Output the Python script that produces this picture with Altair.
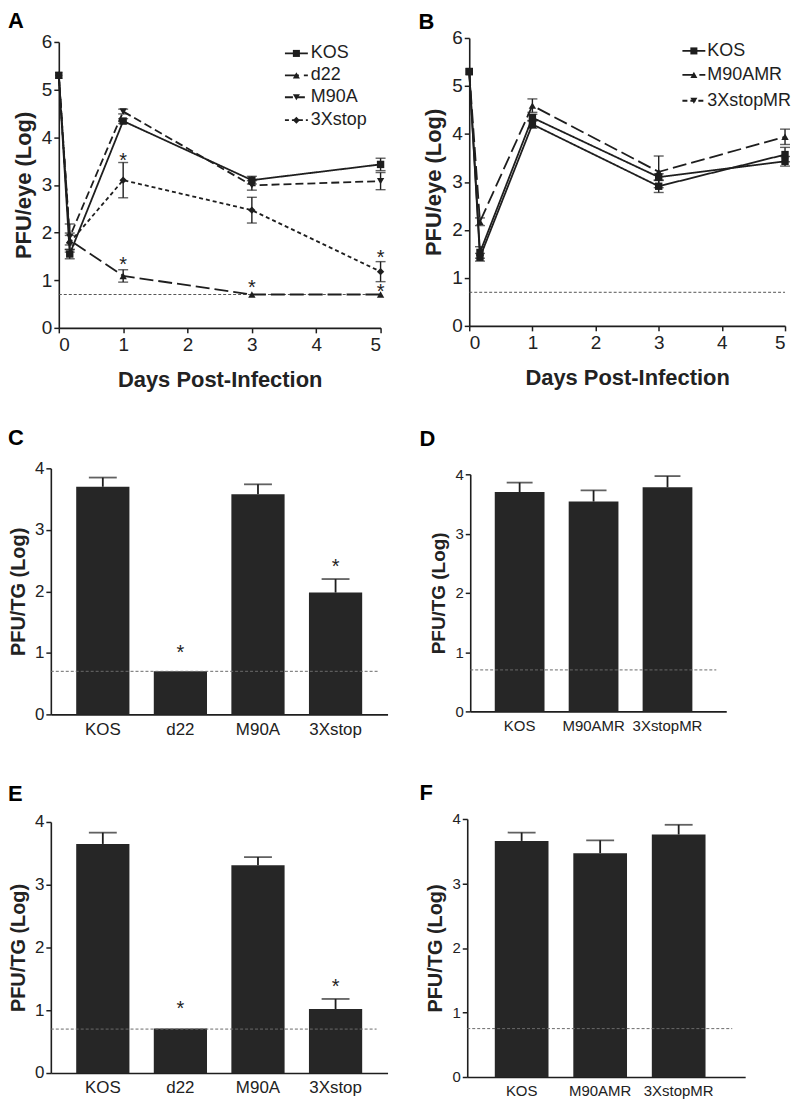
import altair as alt
import pandas as pd

FONT = "Liberation Sans"
INK = "#1e1e1e"
BAR = "#262626"
LOD_C = "#555555"

# ---------------- data ----------------
days = [0, 0.17, 1, 3, 5]

# Panel A
a_names = ["KOS", "d22", "M90A", "3Xstop"]
a_kos = [5.30, 1.55, 4.34, 3.10, 3.43]
a_kos_err = [0, 0.10, 0.05, 0.08, 0.13]
a_d22 = [5.30, 1.84, 1.09, 0.70, 0.70]
a_d22_err = [0, 0.10, 0.13, 0, 0]
a_m90a = [5.30, 1.91, 4.54, 2.99, 3.08]
a_m90a_err = [0, 0.27, 0.05, 0.10, 0.18]
a_3x = [5.30, 1.79, 3.10, 2.47, 1.18]
a_3x_err = [0, 0.20, 0.37, 0.27, 0.21]
a_star_x = [1, 1, 3, 5, 5]
a_star_y = [3.60, 1.43, 0.94, 1.58, 0.85]

# Panel B
b_names = ["KOS", "M90AMR", "3XstopMR"]
b_kos = [5.30, 1.53, 4.34, 3.10, 3.43]
b_kos_err = [0, 0.12, 0.07, 0.07, 0.10]
b_m90amr = [5.30, 1.43, 4.20, 2.91, 3.57]
b_m90amr_err = [0, 0.08, 0.08, 0.13, 0.15]
b_3xmr = [5.30, 2.17, 4.59, 3.21, 3.94]
b_3xmr_err = [0, 0.08, 0.14, 0.33, 0.16]

lod_eye = 0.7

# Panel C
c_cats = ["KOS", "d22", "M90A", "3Xstop"]
c_vals = [3.70, 0.70, 3.58, 1.98]
c_err = [0.15, 0, 0.16, 0.22]
c_star_cats = ["d22", "3Xstop"]
c_star_y = [1.08, 2.48]
c_lod = 0.7

# Panel D
d_cats = ["KOS", "M90AMR", "3XstopMR"]
d_vals = [3.70, 3.54, 3.78]
d_err = [0.16, 0.19, 0.19]
d_lod = 0.7

# Panel E
e_cats = ["KOS", "d22", "M90A", "3Xstop"]
e_vals = [3.65, 0.71, 3.31, 1.02]
e_err = [0.18, 0, 0.13, 0.16]
e_star_cats = ["d22", "3Xstop"]
e_star_y = [1.10, 1.45]
e_lod = 0.7

# Panel F
f_cats = ["KOS", "M90AMR", "3XstopMR"]
f_vals = [3.66, 3.47, 3.76]
f_err = [0.13, 0.20, 0.15]
f_lod = 0.75


def letter_title(letter, dx, offset):
    return alt.TitleParams(text=letter, anchor="start", frame="group", dx=dx,
                           offset=offset, fontSize=22, fontWeight="bold",
                           font=FONT, color="#000000")


def line_panel(names, vals, errs, dashes, shapes, star_x, star_y, letter,
               w, h, xin, ytop, tdx, toff, leg_x0, leg_x1, leg_tx, leg_ys):
    rows = []
    for n, vs, es in zip(names, vals, errs):
        for d, v, e in zip(days, vs, es):
            rows.append(dict(strain=n, day=d, pfu=v, lo=v - e, hi=v + e, err=e))
    df = pd.DataFrame(rows)

    def X():
        return alt.X("day:Q", scale=alt.Scale(domain=[0, 5], nice=False, range=[xin, w]),
                     axis=alt.Axis(values=[0, 1, 2, 3, 4, 5], title="Days Post-Infection",
                                   labelFontSize=19, titleFontSize=22, labelPadding=3,
                                   titlePadding=15, tickSize=5, format="d"))

    def Y(field):
        return alt.Y(f"{field}:Q", scale=alt.Scale(domain=[0, 6], nice=False, range=[h, ytop]),
                     axis=alt.Axis(values=[0, 1, 2, 3, 4, 5, 6], title="PFU/eye (Log)",
                                   labelFontSize=19, titleFontSize=22, labelPadding=2,
                                   titlePadding=6, tickSize=5, offset=-xin))

    dash_scale = alt.Scale(domain=names, range=dashes)
    shape_scale = alt.Scale(domain=names, range=shapes)

    lod = alt.Chart(pd.DataFrame({"pfu": [lod_eye]})).mark_rule(
        strokeDash=[3, 2], color=LOD_C, strokeWidth=1).encode(
        y=Y("pfu"), x=alt.value(xin), x2=alt.value(w))
    lines = alt.Chart(df).mark_line(strokeWidth=1.8, color=INK).encode(
        x=X(), y=Y("pfu"),
        strokeDash=alt.StrokeDash("strain:N", scale=dash_scale, legend=None),
        detail="strain:N")
    ebar = alt.Chart(df).transform_filter("datum.err > 0").mark_rule(
        color=INK, strokeWidth=1.4).encode(x=X(), y=Y("lo"), y2="hi:Q")
    caps_hi = alt.Chart(df).transform_filter("datum.err > 0").mark_tick(
        orient="horizontal", color=INK, thickness=1.4, size=10).encode(x=X(), y=Y("hi"))
    caps_lo = alt.Chart(df).transform_filter("datum.err > 0").mark_tick(
        orient="horizontal", color=INK, thickness=1.4, size=10).encode(x=X(), y=Y("lo"))
    pts = alt.Chart(df).mark_point(filled=True, color=INK, size=55, opacity=1).encode(
        x=X(), y=Y("pfu"),
        shape=alt.Shape("strain:N", scale=shape_scale, legend=None))
    layers = [lod, lines, ebar, caps_hi, caps_lo, pts]
    if star_x:
        sdf = pd.DataFrame({"day": star_x, "pfu": star_y})
        layers.append(alt.Chart(sdf).mark_text(text="*", fontSize=20, font=FONT, color=INK,
                                               baseline="middle", dy=5).encode(x=X(), y=Y("pfu")))
    # legend
    for n, dsh, shp, ly in zip(names, dashes, shapes, leg_ys):
        ldf = pd.DataFrame({"strain": [n]})
        layers.append(alt.Chart(ldf).mark_rule(color=INK, strokeWidth=1.8, strokeDash=dsh).encode(
            x=alt.value(leg_x0), x2=alt.value(leg_x1), y=alt.value(ly)))
        layers.append(alt.Chart(ldf).mark_point(filled=True, color=INK, size=50, opacity=1,
                                                shape=shp).encode(
            x=alt.value((leg_x0 + leg_x1) / 2), y=alt.value(ly)))
        layers.append(alt.Chart(ldf).mark_text(align="left", baseline="middle", fontSize=18,
                                               font=FONT, color=INK).encode(
            x=alt.value(leg_tx), y=alt.value(ly), text="strain:N"))
    return alt.layer(*layers).properties(width=w, height=h, title=letter_title(letter, tdx, toff))


def bar_panel(cats, vals, errs, star_cats, star_y, lod_v, letter, w, h, ytop, pin, pout, align,
              lab_fs, ytitle_fs, cap, tdx, toff, lod_x2):
    df = pd.DataFrame({"strain": cats, "pfu": vals,
                       "top": [v + e for v, e in zip(vals, errs)], "err": errs})

    def X():
        return alt.X("strain:N", sort=cats,
                     scale=alt.Scale(domain=cats, paddingInner=pin, paddingOuter=pout, align=align),
                     axis=alt.Axis(title=None, labelAngle=0, ticks=False, labelFontSize=lab_fs,
                                   labelPadding=7))

    def Y(field):
        return alt.Y(f"{field}:Q", scale=alt.Scale(domain=[0, 4], nice=False, range=[h, ytop]),
                     axis=alt.Axis(values=[0, 1, 2, 3, 4], title="PFU/TG (Log)",
                                   labelFontSize=lab_fs, titleFontSize=ytitle_fs,
                                   labelPadding=2, titlePadding=6, tickSize=5))

    bars = alt.Chart(df).mark_bar(color=BAR).encode(x=X(), y=Y("pfu"))
    ebar = alt.Chart(df).transform_filter("datum.err > 0").mark_rule(
        color=INK, strokeWidth=1.8).encode(x=X(), y=Y("pfu"), y2="top:Q")
    caps = alt.Chart(df).transform_filter("datum.err > 0").mark_tick(
        color=INK, thickness=1.8, size=cap).encode(x=X(), y=Y("top"))
    lod = alt.Chart(pd.DataFrame({"pfu": [lod_v]})).mark_rule(
        strokeDash=[3, 2], color="#6a6a6a", strokeWidth=1).encode(
        y=Y("pfu"), x=alt.value(0), x2=alt.value(lod_x2))
    layers = [bars, ebar, caps, lod]
    if star_cats:
        sdf = pd.DataFrame({"strain": star_cats, "pfu": star_y})
        layers.append(alt.Chart(sdf).mark_text(text="*", fontSize=20, font=FONT, color=INK,
                                               baseline="middle", dy=5).encode(x=X(), y=Y("pfu")))
    return alt.layer(*layers).properties(width=w, height=h, title=letter_title(letter, tdx, toff))


A = line_panel(a_names, [a_kos, a_d22, a_m90a, a_3x],
               [a_kos_err, a_d22_err, a_m90a_err, a_3x_err],
               [[1, 0], [14, 5], [8, 4], [4, 3]],
               ["square", "triangle-up", "triangle-down", "diamond"],
               a_star_x, a_star_y, "A", 331, 291, 8, 4, -43, 0,
               235, 258, 261, [15.5, 37.5, 59.5, 82.5])
B = line_panel(b_names, [b_kos, b_m90amr, b_3xmr],
               [b_kos_err, b_m90amr_err, b_3xmr_err],
               [[1, 0], [12, 5], [5, 3]],
               ["square", "triangle-up", "triangle-down"],
               [], [], "B", 317, 289, 0, 0, -51, -5,
               214, 237, 239, [13, 37, 63])

C = bar_panel(c_cats, c_vals, c_err, c_star_cats, c_star_y, c_lod, "C", 338, 247, 0,
              0.314, 0.327, 0.5, 17, 20, 28, -43, 9.5, 328)
D = bar_panel(d_cats, d_vals, d_err, [], [], d_lod, "D", 257, 244, 6,
              0.327, 0.395, 0.42, 15, 19, 26, -51, 16.5, 247)
E = bar_panel(e_cats, e_vals, e_err, e_star_cats, e_star_y, e_lod, "E", 338, 255, 3,
              0.314, 0.327, 0.5, 17, 20, 28, -43, 7.5, 327)
F = bar_panel(f_cats, f_vals, f_err, [], [], f_lod, "F", 279, 259, 0,
              0.316, 0.428, 0.41, 15, 20, 28, -48, 7.5, 266)

row1 = alt.hconcat(A, B, spacing=33)
row2 = alt.hconcat(C, D, spacing=32)
row3 = alt.hconcat(E, F, spacing=32)

top_part = alt.vconcat(row1, row2, spacing=36)
chart = alt.vconcat(top_part, row3, spacing=44).properties(
    padding=0
).configure_view(stroke=None).configure_axis(
    grid=False, domainColor=INK, domainWidth=1.6, tickColor=INK, tickWidth=1.5,
    labelColor="#222222", titleColor="#222222", labelFont=FONT, titleFont=FONT,
    titleFontWeight="bold"
).configure_text(font=FONT)

chart.save("out.html", embed_options={"renderer": "svg", "actions": False})
